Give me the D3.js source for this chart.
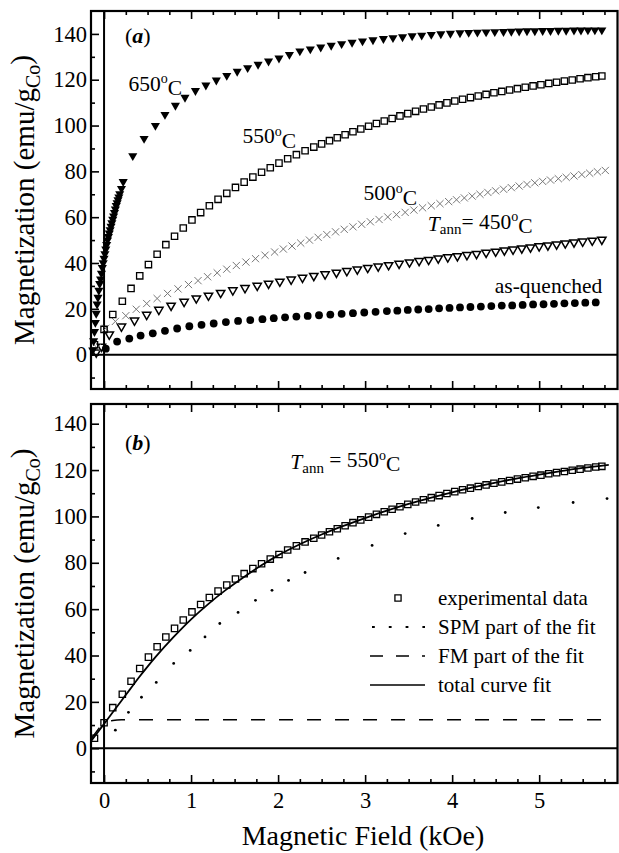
<!DOCTYPE html>
<html>
<head>
<meta charset="utf-8">
<title>Magnetization curves</title>
<script src="https://d3js.org/d3.v7.min.js"></script>
<style>
  body { margin: 0; background: #fff; }
  text { font-family: "Liberation Serif", "Times New Roman", serif; fill: #000; }
</style>
</head>
<body>
<svg id="chart" width="619" height="853"></svg>
<script>
// ---- data: [field (kOe), magnetization (emu/gCo)] ----
const t650 = [[-0.13,2],[-0.12,6],[-0.11,10],[-0.10,14],[-0.09,18],[-0.08,22],[-0.07,25],[-0.06,28],[-0.05,31],[-0.04,33],
  [-0.03,35.5],[-0.02,38],[-0.01,40],[0.00,42],[0.01,44],[0.02,46],[0.03,48],[0.04,50],[0.05,51.5],[0.06,53],[0.07,54.5],
  [0.08,56],[0.09,57.5],[0.10,59],[0.11,60.5],[0.12,62],[0.13,63.5],[0.14,65],[0.15,66.2],[0.16,67.5],[0.17,68.8],[0.18,70.2],
  [0.20,72.5],[0.22,75.5],[0.33,86.8],[0.46,94.3],[0.59,100.0],[0.70,104.8],[0.82,108.8],[0.93,112.3],[1.05,115.2],[1.17,117.6],
  [1.29,119.8],[1.41,121.8],[1.53,123.6],[1.65,125.2],[1.77,126.7],[1.89,128.1],[2.01,129.4],[2.13,131.0],[2.25,132.5],
  [2.37,133.4],[2.49,134.2],[2.61,135.0],[2.73,135.7],[2.85,136.3],[2.97,136.9],[3.09,137.4],[3.21,137.9],[3.32,138.3],
  [3.43,138.7],[3.54,139.1],[3.65,139.4],[3.76,139.7],[3.87,140.0],[3.98,140.2],[4.09,140.4],[4.19,140.6],[4.29,140.7],
  [4.39,140.8],[4.49,140.9],[4.59,141.0],[4.68,141.1],[4.77,141.2],[4.86,141.3],[4.95,141.3],[5.04,141.4],[5.13,141.4],
  [5.22,141.5],[5.31,141.5],[5.40,141.6],[5.48,141.6],[5.56,141.7],[5.64,141.7],[5.72,141.7]];

const t550 = [[-0.11,4.3],[0.00,11.0],[0.10,17.5],[0.21,23.3],[0.31,28.9],[0.41,34.4],[0.51,39.3],[0.61,43.8],[0.71,48.0],
  [0.81,51.7],[0.91,55.3],[1.01,58.8],[1.11,62.0],[1.21,65.0],[1.31,67.8],[1.41,70.4],[1.51,73.0],[1.61,75.3],[1.71,77.5],
  [1.81,79.6],[1.91,81.6],[2.01,83.6],[2.11,85.5],[2.21,87.3],[2.31,89.0],[2.41,90.6],[2.50,92.0],[2.59,93.4],[2.68,94.7],
  [2.77,96.0],[2.86,97.3],[2.95,98.5],[3.04,99.7],[3.13,100.9],[3.22,102.0],[3.31,103.1],[3.40,104.2],[3.49,105.2],
  [3.58,106.2],[3.67,107.2],[3.76,108.1],[3.85,109.0],[3.94,109.9],[4.03,110.7],[4.12,111.5],[4.21,112.2],[4.30,112.9],
  [4.39,113.6],[4.48,114.3],[4.57,114.9],[4.66,115.5],[4.75,116.1],[4.84,116.7],[4.93,117.3],[5.02,117.8],[5.11,118.4],
  [5.20,118.9],[5.29,119.4],[5.38,119.9],[5.47,120.4],[5.56,120.9],[5.65,121.3],[5.72,121.6]];

const t500 = [[-0.08,3],[0.02,11.5],[0.13,14.5],[0.25,17.0],[0.37,19.8],[0.49,22.3],[0.61,24.5],[0.73,26.7],[0.85,28.7],
  [0.97,30.6],[1.08,32.3],[1.19,34.0],[1.30,35.7],[1.41,37.3],[1.52,38.9],[1.63,40.4],[1.74,41.9],[1.85,43.4],[1.96,44.8],
  [2.06,46.1],[2.16,47.4],[2.26,48.7],[2.36,50.0],[2.46,51.2],[2.56,52.4],[2.66,53.6],[2.76,54.7],[2.86,55.8],[2.96,56.9],
  [3.06,58.0],[3.16,59.0],[3.26,60.1],[3.36,61.1],[3.46,62.1],[3.56,63.1],[3.66,64.1],[3.76,65.0],[3.86,65.9],[3.96,66.8],
  [4.05,67.6],[4.14,68.4],[4.23,69.2],[4.32,70.0],[4.41,70.8],[4.50,71.5],[4.59,72.2],[4.68,72.9],[4.77,73.6],[4.86,74.3],
  [4.95,75.0],[5.04,75.6],[5.13,76.2],[5.22,76.8],[5.31,77.4],[5.40,78.0],[5.49,78.6],[5.58,79.2],[5.67,79.8],[5.76,80.4]];

const t450 = [[-0.09,1.0],[-0.03,3.5],[0.06,8.8],[0.20,12.3],[0.35,14.9],[0.49,17.4],[0.63,19.6],[0.77,21.4],[0.92,23.1],
  [1.06,24.6],[1.20,25.8],[1.34,27.0],[1.48,28.1],[1.62,29.1],[1.76,30.1],[1.89,31.0],[2.02,31.9],[2.15,32.8],[2.28,33.6],
  [2.41,34.4],[2.54,35.1],[2.67,35.8],[2.79,36.5],[2.91,37.2],[3.03,37.9],[3.15,38.5],[3.27,39.1],[3.39,39.7],[3.51,40.3],
  [3.62,40.9],[3.73,41.4],[3.84,42.0],[3.95,42.5],[4.06,43.0],[4.17,43.5],[4.28,44.0],[4.39,44.5],[4.50,45.0],[4.60,45.5],
  [4.70,45.9],[4.80,46.4],[4.90,46.8],[5.00,47.3],[5.10,47.7],[5.20,48.1],[5.30,48.6],[5.40,49.0],[5.50,49.4],[5.61,49.8],
  [5.72,50.2]];

const asQuenched = [[0.02,2.6],[0.15,5.7],[0.29,7.0],[0.42,8.3],[0.56,9.3],[0.70,10.4],[0.84,11.4],[0.98,12.4],[1.12,13.0],
  [1.26,13.6],[1.40,14.2],[1.54,14.7],[1.68,15.1],[1.82,15.5],[1.95,15.9],[2.08,16.3],[2.21,16.6],[2.34,16.9],[2.47,17.2],
  [2.60,17.5],[2.73,17.8],[2.86,18.1],[2.99,18.4],[3.12,18.7],[3.25,19.0],[3.37,19.2],[3.49,19.5],[3.61,19.7],[3.73,19.9],
  [3.85,20.2],[3.97,20.4],[4.09,20.6],[4.21,20.8],[4.33,21.0],[4.45,21.2],[4.57,21.4],[4.69,21.5],[4.81,21.7],[4.93,21.9],
  [5.05,22.0],[5.17,22.2],[5.29,22.4],[5.41,22.5],[5.53,22.7],[5.65,22.8]];

// fit components for the 550 C sample (panel b)
const fitTotal = [[-0.15,3],[0,10.5],[0.1,15.5],[0.2,20.5],[0.3,25.5],[0.4,30.5],[0.5,35.2],[0.6,39.7],[0.8,48.0],[1.0,55.6],
  [1.2,62.3],[1.4,68.3],[1.6,73.7],[1.8,78.7],[2.0,83.2],[2.25,88.0],[2.5,92.2],[2.75,95.9],[3.0,99.3],[3.25,102.5],
  [3.5,105.4],[3.75,108.0],[4.0,110.4],[4.25,112.6],[4.5,114.6],[4.75,116.4],[5.0,118.0],[5.25,119.5],[5.5,120.9],[5.8,122.2]];
// SPM part is plotted as separate dots in the figure
const fitSPM = [[0.13,7.8],[0.28,15.5],[0.43,22],[0.6,28.4],[0.8,36.6],[0.99,42.2],[1.16,48],[1.33,53.8],[1.54,58.6],
  [1.74,63.8],[1.93,68.1],[2.12,72.4],[2.31,75.8],[2.69,81.9],[3.08,87.5],[3.46,92.6],[3.84,96.1],[4.23,99.1],[4.61,101.7],
  [4.99,103.8],[5.39,106],[5.78,107.7]];
const fitFM = [[-0.15,4],[-0.1,6.5],[-0.05,9],[0,10.8],[0.05,11.6],[0.1,12.0],[0.2,12.3],[1,12.3],[2,12.3],[3,12.3],[4,12.3],[5,12.3],[5.8,12.3]];

const xMajor = [0, 1, 2, 3, 4, 5];
const xMinor = [0.25,0.5,0.75,1.25,1.5,1.75,2.25,2.5,2.75,3.25,3.5,3.75,4.25,4.5,4.75,5.25,5.5,5.75];
const yMajor = [0, 20, 40, 60, 80, 100, 120, 140];
const yMinor = [-10, 10, 30, 50, 70, 90, 110, 130];

const legendLabels = ["experimental data", "SPM part of the fit", "FM part of the fit", "total curve fit"];

// ---- layout ----
const svg = d3.select("#chart");
const left = 91, right = 617.5;
const x = d3.scaleLinear().domain([-0.15, 5.9]).range([left, right]);
const yA = d3.scaleLinear().domain([-15, 150]).range([389, 11]);
const yB = d3.scaleLinear().domain([-15, 148.5]).range([783, 404]);

function panel(y, showXLabels) {
    const g = svg.append("g");
    const [bot, top] = y.range();

    // inward ticks on bottom, top and left
    const axes = [
        [d3.axisBottom(x).tickValues(xMajor).tickSize(-8), `translate(0,${bot})`, true],
        [d3.axisBottom(x).tickValues(xMinor).tickSize(-4), `translate(0,${bot})`, false],
        [d3.axisTop(x).tickValues(xMajor).tickSize(-8), `translate(0,${top})`, false],
        [d3.axisTop(x).tickValues(xMinor).tickSize(-4), `translate(0,${top})`, false],
    ];
    axes.forEach(([ax, tr, labelled]) => {
        ax.tickPadding(9).tickFormat(labelled && showXLabels ? d3.format("d") : "");
        const a = g.append("g").attr("transform", tr).call(ax);
        a.select(".domain").remove();
        a.selectAll("line").attr("stroke", "#000").attr("stroke-width", 1.6);
        a.selectAll("text").style("font-size", "22.5px").attr("fill", "#000");
    });
    const ly = g.append("g").attr("transform", `translate(${left},0)`)
        .call(d3.axisLeft(y).tickValues(yMajor).tickSize(-8).tickPadding(4).tickFormat(d3.format("d")));
    const lyMinor = g.append("g").attr("transform", `translate(${left},0)`)
        .call(d3.axisLeft(y).tickValues(yMinor).tickSize(-4).tickFormat(""));
    [ly, lyMinor].forEach(a => {
        a.select(".domain").remove();
        a.selectAll("line").attr("stroke", "#000").attr("stroke-width", 1.6);
        a.selectAll("text").style("font-size", "22.5px").attr("fill", "#000");
    });

    // zero lines
    g.append("line").attr("x1", left).attr("x2", right).attr("y1", y(0)).attr("y2", y(0))
        .attr("stroke", "#000").attr("stroke-width", 2);
    g.append("line").attr("x1", x(0)).attr("x2", x(0)).attr("y1", top).attr("y2", bot)
        .attr("stroke", "#000").attr("stroke-width", 2);

    // frame
    g.append("rect").attr("x", left).attr("y", top).attr("width", right - left).attr("height", bot - top)
        .attr("fill", "none").attr("stroke", "#000").attr("stroke-width", 2.2);

    // y label
    const yl = g.append("text")
        .attr("transform", `translate(34,${(top + bot) / 2}) rotate(-90)`)
        .attr("text-anchor", "middle").style("font-size", "29px");
    yl.append("tspan").text("Magnetization (emu/g");
    yl.append("tspan").text("Co").style("font-size", "20px").attr("dy", "0.3em");
    yl.append("tspan").text(")").attr("dy", "-0.3em");
    return g;
}

const gA = panel(yA, false);
const gB = panel(yB, true);

const downTri = (s) => d3.symbol(d3.symbolTriangle, s)();
const crossPath = (r) => `M${-r},${-r}L${r},${r}M${-r},${r}L${r},${-r}`;

function markers(g, data, y, path, attrs) {
    const sel = g.append("g").selectAll("path").data(data).enter().append("path")
        .attr("d", path)
        .attr("transform", d => `translate(${x(d[0])},${y(d[1])})` + (attrs.rot ? " rotate(180)" : ""));
    Object.entries(attrs.style).forEach(([k, v]) => sel.attr(k, v));
}

// ---- panel (a) ----
gA.append("g").selectAll("circle").data(asQuenched).enter().append("circle")
    .attr("cx", d => x(d[0])).attr("cy", d => yA(d[1])).attr("r", 3.9).attr("fill", "#000");
markers(gA, t450, yA, downTri(30), {rot: true, style: {fill: "none", stroke: "#000", "stroke-width": 1.5}});
markers(gA, t500, yA, crossPath(3.6), {style: {fill: "none", stroke: "#777", "stroke-width": 1}});
markers(gA, t550, yA, d3.symbol(d3.symbolSquare, 40)(), {style: {fill: "none", stroke: "#000", "stroke-width": 1.3}});
markers(gA, t650, yA, downTri(36), {rot: true, style: {fill: "#000", stroke: "none"}});

function tempLabel(g, y, hx, hy, lead, ann) {
    const t = g.append("text").attr("x", x(hx)).attr("y", y(hy)).style("font-size", "21.5px");
    if (ann) {
        t.append("tspan").text("T").style("font-style", "italic");
        t.append("tspan").text("ann").style("font-size", "15px").attr("dy", "0.25em");
        t.append("tspan").text(lead).attr("dy", "-0.25em");
    } else {
        t.append("tspan").text(lead);
    }
    t.append("tspan").text("o").style("font-size", "14px").attr("dy", "-0.55em");
    t.append("tspan").text("C").attr("dy", "0.55em");
}

tempLabel(gA, yA, 0.28, 115, "650", false);
tempLabel(gA, yA, 1.59, 92.2, "550", false);
tempLabel(gA, yA, 2.98, 67.3, "500", false);
tempLabel(gA, yA, 3.72, 54.1, "= 450", true);
gA.append("text").attr("x", x(4.49)).attr("y", yA(27)).style("font-size", "21.5px").text("as-quenched");

function panelTag(g, y, hy, letter) {
    const t = g.append("text").attr("x", x(0.24)).attr("y", y(hy)).style("font-size", "22px");
    t.append("tspan").text("(");
    t.append("tspan").text(letter).style("font-weight", "bold").style("font-style", "italic");
    t.append("tspan").text(")");
}
panelTag(gA, yA, 136, "a");

// ---- panel (b) ----
const line = (y) => d3.line().x(d => x(d[0])).y(d => y(d[1])).curve(d3.curveMonotoneX);
gB.append("path").datum(fitFM).attr("d", line(yB)).attr("fill", "none").attr("stroke", "#000")
    .attr("stroke-width", 1.5).attr("stroke-dasharray", "14,14");
gB.append("g").selectAll("circle").data(fitSPM).enter().append("circle")
    .attr("cx", d => x(d[0])).attr("cy", d => yB(d[1])).attr("r", 1.4).attr("fill", "#000");
markers(gB, t550, yB, d3.symbol(d3.symbolSquare, 40)(), {style: {fill: "none", stroke: "#000", "stroke-width": 1.3}});
gB.append("path").datum(fitTotal).attr("d", line(yB)).attr("fill", "none").attr("stroke", "#000")
    .attr("stroke-width", 1.8);

panelTag(gB, yB, 128.7, "b");
tempLabel(gB, yB, 2.14, 120.5, " = 550", true);

// legend
const lg = gB.append("g").attr("transform", "translate(370,598)");
const rowH = 29;
legendLabels.forEach((lab, i) => {
    const yy = i * rowH;
    if (i === 0) {
        lg.append("path").attr("d", d3.symbol(d3.symbolSquare, 38)()).attr("transform", `translate(28,${yy})`)
            .attr("fill", "none").attr("stroke", "#000").attr("stroke-width", 1.3);
    } else {
        const dash = i === 1 ? "2.8,14" : i === 2 ? "13,13" : null;
        lg.append("line").attr("x1", i === 1 ? 2 : 0).attr("x2", 55).attr("y1", yy).attr("y2", yy)
            .attr("stroke", "#000").attr("stroke-width", i === 1 ? 2.2 : 1.5)
            .attr("stroke-dasharray", dash);
    }
    lg.append("text").attr("x", 68).attr("y", yy + 7).style("font-size", "21px").text(lab);
});

// x label
svg.append("text").attr("x", 363).attr("y", 845).attr("text-anchor", "middle")
    .style("font-size", "28px").text("Magnetic Field (kOe)");
</script>
</body>
</html>
